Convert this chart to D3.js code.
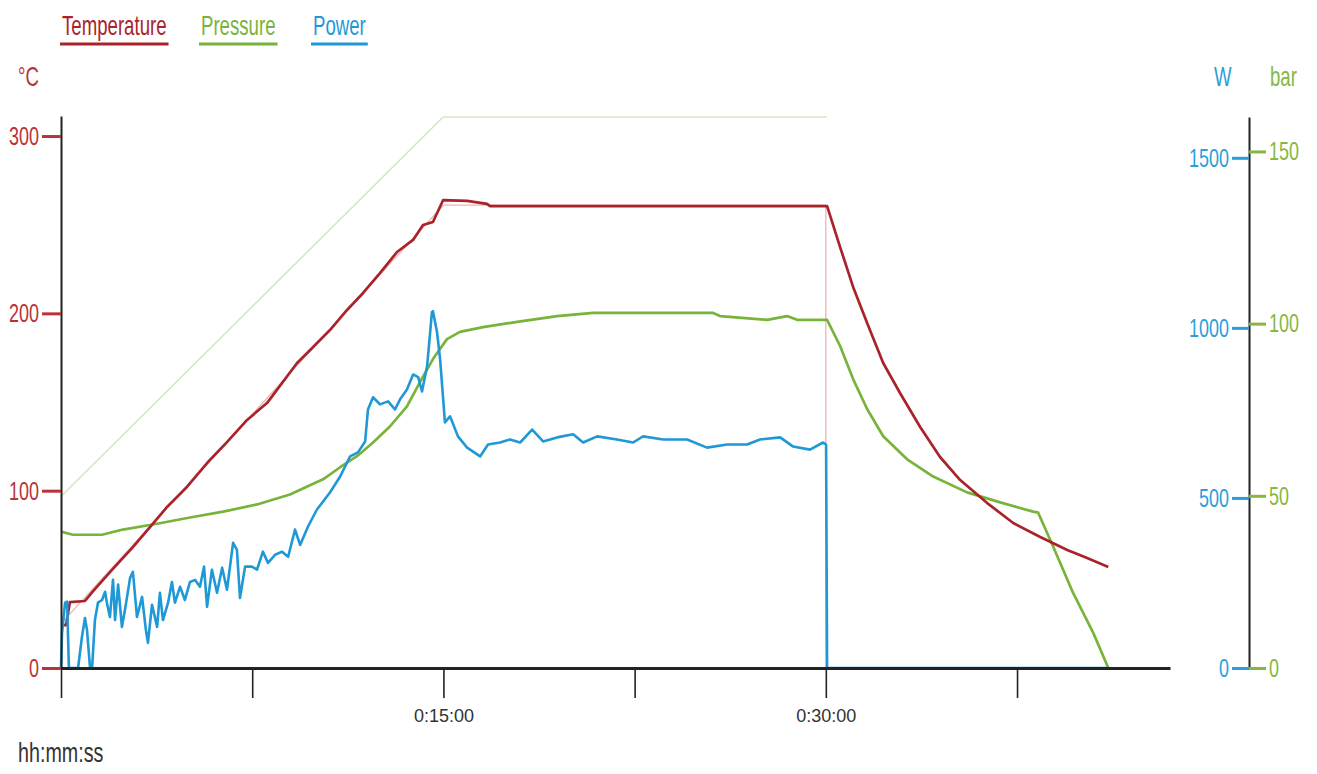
<!DOCTYPE html>
<html>
<head>
<meta charset="utf-8">
<script src="https://cdn.jsdelivr.net/npm/d3@7"></script>
<style>
  body { margin: 0; background: #fff; }
  svg { display: block; font-family: "Liberation Sans", Arial, sans-serif; }
</style>
</head>
<body>
<div id="chart"></div>
<script>
// Time in minutes
const temperature = [[0,24.2],[0.2,24.2],[0.35,37.2],[0.94,37.8],[1.26,43.4],[2.0,55.3],[2.82,68.2],[3.49,79.5],[4.16,90.8],[4.94,102.1],[5.73,115.6],[6.51,127.4],[7.30,139.9],[8.08,149.4],[9.26,172.0],[9.89,181.0],[10.55,190.6],[11.22,201.9],[11.85,211.5],[12.51,222.7],[13.18,234.6],[13.81,241.4],[14.20,249.8],[14.59,251.5],[14.99,263.9],[15.93,263.4],[16.71,261.7],[16.83,260.5],[30.05,260.5],[30.56,237.4],[31.07,214.9],[31.62,194.6],[32.25,172.0],[32.91,155.1],[33.70,135.9],[34.48,119.0],[35.27,106.0],[36.33,93.0],[37.35,81.8],[38.41,73.9],[39.47,66.5],[40.25,62.0],[41.08,57.0]];

const tempSetpoint = [[0,25],[15,261],[30,261],[30,0]];

const pressure = [[0,39.6],[0.47,38.7],[1.61,38.7],[2.43,40.2],[3.77,41.9],[5.06,43.7],[6.36,45.4],[7.69,47.5],[8.98,50.4],[10.28,54.8],[10.95,58.3],[11.61,61.5],[12.24,65.5],[12.91,70.2],[13.57,76.0],[14.08,83.0],[14.59,89.7],[15.14,95.5],[15.65,97.6],[16.56,99.0],[17.89,100.5],[19.46,102.2],[20.87,103.1],[25.58,103.1],[25.85,102.2],[27.70,101.1],[28.48,102.2],[28.87,101.1],[30.05,101.1],[30.56,93.5],[31.07,83.9],[31.62,75.2],[32.25,67.3],[33.19,60.6],[34.21,55.6],[35.54,51.0],[36.84,48.1],[38.13,45.4],[38.33,45.1],[38.92,35.2],[39.70,21.8],[40.49,10.2],[41.08,0]];

const pressureSetpoint = [[0,49.8],[14.99,160],[30.05,160]];

const power = [[0,0],[0.04,103],[0.16,192],[0.24,195],[0.31,0],[0.67,0],[0.82,91],[0.94,147],[1.02,112],[1.14,0],[1.22,0],[1.33,141],[1.45,192],[1.61,200],[1.73,224],[1.80,192],[1.92,150],[2.04,259],[2.12,141],[2.24,245],[2.39,121],[2.51,171],[2.71,265],[2.82,283],[2.98,150],[3.18,209],[3.33,112],[3.41,74],[3.57,186],[3.77,121],[3.88,221],[4.00,141],[4.20,192],[4.35,253],[4.47,192],[4.67,239],[4.86,200],[5.06,253],[5.26,259],[5.45,239],[5.61,298],[5.73,180],[5.92,289],[6.12,221],[6.32,295],[6.51,230],[6.75,368],[6.90,348],[7.02,206],[7.22,298],[7.49,298],[7.69,289],[7.92,342],[8.12,309],[8.40,333],[8.67,342],[8.91,327],[9.18,407],[9.38,362],[9.69,416],[10.04,466],[10.55,516],[10.95,563],[11.34,622],[11.65,634],[11.93,666],[12.04,760],[12.24,796],[12.51,775],[12.83,784],[13.10,760],[13.30,790],[13.57,819],[13.81,863],[14.01,855],[14.16,813],[14.36,887],[14.55,1046],[14.59,1049],[14.75,987],[14.87,908],[15.06,722],[15.26,740],[15.57,681],[15.93,648],[16.44,622],[16.75,657],[17.22,663],[17.61,672],[18.01,663],[18.48,701],[18.91,666],[19.46,678],[20.09,687],[20.48,663],[21.03,681],[21.81,672],[22.44,663],[22.83,681],[23.62,672],[24.56,672],[25.34,648],[26.13,657],[26.91,657],[27.42,672],[28.21,678],[28.72,651],[29.38,642],[29.89,663],[30.01,657],[30.05,0],[41.08,0]];

const xTicks = [0, 7.5, 15, 22.5, 30, 37.5];
const xTickLabels = ["", "", "0:15:00", "", "0:30:00", ""];
const tempTicks = [0, 100, 200, 300];
const powerTicks = [0, 500, 1000, 1500];
const barTicks = [0, 50, 100, 150];
const legendNames = ["Temperature", "Pressure", "Power"];

const colors = {
  temp: "#a8242a", tempLabel: "#b83337", tempSet: "#efb4b4",
  press: "#78b43c", pressLabel: "#86b83f", pressSet: "#d3e8c2",
  power: "#1f98d6", powerLabel: "#2b9fdb"
};
const sx = 0.69; // horizontal squeeze of the text

const svg = d3.select("#chart")
  .append("svg")
  .attr("width", 1317)
  .attr("height", 774);

// Scales
const x = d3.scaleLinear().domain([0, 43.5]).range([61, 1170]);
const yT = d3.scaleLinear().domain([0, 311.3]).range([668, 116]);
const yW = d3.scaleLinear().domain([0, 1620]).range([668, 117]);
const yB = d3.scaleLinear().domain([0, 160]).range([668, 117]);

function squeeze(sel, k) {
  sel.each(function() {
    const t = d3.select(this);
    const tx = +t.attr("x") || 0;
    t.attr("x", 0).attr("transform", `translate(${tx},0) scale(${k},1)`);
  });
}

// Lines
function drawLine(data, yScale, color, w) {
  svg.append("path")
    .datum(data)
    .attr("fill", "none")
    .attr("stroke", color)
    .attr("stroke-width", w)
    .attr("stroke-linejoin", "round")
    .attr("d", d3.line().x(d => x(d[0])).y(d => yScale(d[1])));
}

drawLine(pressureSetpoint, yB, colors.pressSet, 1.6);
drawLine(tempSetpoint, yT, colors.tempSet, 1.3);
drawLine(pressure, yB, colors.press, 2.7);
drawLine(temperature, yT, colors.temp, 2.7);
drawLine(power, yW, colors.power, 2.6);

// X axis
const xAxis = svg.append("g")
  .attr("transform", "translate(0,668)")
  .call(d3.axisBottom(x)
    .tickValues(xTicks)
    .tickSize(30)
    .tickSizeOuter(0)
    .tickFormat((d, i) => xTickLabels[i]));
xAxis.select(".domain").attr("stroke", "#222").attr("stroke-width", 3);
xAxis.selectAll(".tick line").attr("stroke", "#222").attr("stroke-width", 1.6);
xAxis.selectAll(".tick text")
  .attr("y", 54).attr("dy", 0)
  .style("font-size", "18px")
  .attr("fill", "#333");

// Left axis (temperature)
const leftAxis = svg.append("g")
  .attr("transform", "translate(61,0)")
  .call(d3.axisLeft(yT).tickValues(tempTicks).tickSize(19).tickSizeOuter(0).tickFormat(d3.format("d")));
leftAxis.select(".domain").attr("stroke", "#222").attr("stroke-width", 2);
leftAxis.selectAll(".tick line").attr("stroke", colors.tempLabel).attr("stroke-width", 3);
leftAxis.selectAll(".tick text")
  .style("font-size", "26px")
  .attr("fill", colors.tempLabel)
  .call(squeeze, sx);

// Right axes (power and pressure)
const wAxis = svg.append("g")
  .attr("transform", "translate(1249,0)")
  .call(d3.axisLeft(yW).tickValues(powerTicks).tickSize(17).tickSizeOuter(0).tickFormat(d3.format("d")));
wAxis.select(".domain").attr("stroke", "#222").attr("stroke-width", 2);
wAxis.selectAll(".tick line").attr("stroke", colors.powerLabel).attr("stroke-width", 3);
wAxis.selectAll(".tick text")
  .style("font-size", "26px")
  .attr("fill", colors.powerLabel)
  .call(squeeze, sx);

const bAxis = svg.append("g")
  .attr("transform", "translate(1249,0)")
  .call(d3.axisRight(yB).tickValues(barTicks).tickSize(17).tickSizeOuter(0).tickFormat(d3.format("d")));
bAxis.select(".domain").remove();
bAxis.selectAll(".tick line").attr("stroke", colors.pressLabel).attr("stroke-width", 3);
bAxis.selectAll(".tick text")
  .style("font-size", "26px")
  .attr("fill", colors.pressLabel)
  .call(squeeze, sx);

// Squeezed free text
function label(txt, px, py, color, size, k) {
  return svg.append("text")
    .attr("transform", `translate(${px},${py}) scale(${k},1)`)
    .style("font-size", size + "px")
    .attr("fill", color)
    .text(txt);
}

label("°C", 18, 86, colors.tempLabel, 27, sx);
label("W", 1214, 86, colors.powerLabel, 27, sx);
label("bar", 1270, 86, colors.pressLabel, 27, sx);
label("hh:mm:ss", 18, 762, "#333", 27, 0.73);

// Legend
const legendX = [62, 201, 313];
const legendColors = [colors.temp, colors.press, colors.power];
legendNames.forEach((name, i) => {
  const t = label(name, legendX[i], 35, legendColors[i], 27, sx);
  const len = t.node().getComputedTextLength() * sx;
  svg.append("line")
    .attr("x1", legendX[i] - 2).attr("x2", legendX[i] + len + 2)
    .attr("y1", 44).attr("y2", 44)
    .attr("stroke", legendColors[i])
    .attr("stroke-width", 3);
});
</script>
</body>
</html>
